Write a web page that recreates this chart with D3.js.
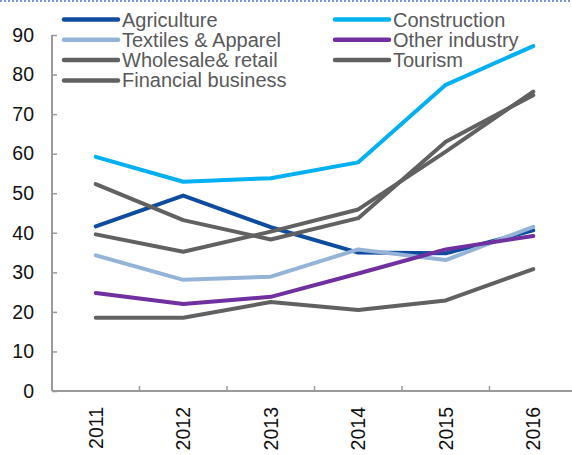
<!doctype html>
<html lang="en">
<head>
<meta charset="utf-8" />
<title>Sector lines</title>
<script src="https://d3js.org/d3.v7.min.js"></script>
<style>
  body { margin: 0; background: #fff; }
  svg { display: block; font-family: "Liberation Sans", Arial, sans-serif; }
</style>
</head>
<body>
<svg></svg>
<script>
// data
const years = ["2011", "2012", "2013", "2014", "2015", "2016"];
const agriculture  = [41.6, 49.4, 41.4, 35.0, 34.8, 40.6];
const construction = [59.2, 52.9, 53.8, 57.8, 77.4, 87.2];
const textiles     = [34.3, 28.1, 28.9, 35.8, 33.1, 41.5];
const otherIndustry= [24.8, 22.0, 23.8, 29.7, 35.8, 39.2];
const wholesale    = [39.6, 35.2, 40.3, 45.9, 60.5, 75.7];
const tourism      = [18.5, 18.5, 22.5, 20.5, 22.9, 30.8];
const financial    = [52.3, 43.2, 38.3, 43.7, 63.0, 74.8];
const yTicks = [0, 10, 20, 30, 40, 50, 60, 70, 80, 90];

const series = [
  { name: "Agriculture", values: agriculture, color: "#0f4c9f" },
  { name: "Construction", values: construction, color: "#00b0f0" },
  { name: "Textiles & Apparel", values: textiles, color: "#95b3d7" },
  { name: "Other industry", values: otherIndustry, color: "#7030a0" },
  { name: "Wholesale& retail", values: wholesale, color: "#616161" },
  { name: "Tourism", values: tourism, color: "#616161" },
  { name: "Financial business", values: financial, color: "#616161" }
];

let width = 572,
    height = 455;

const svg = d3.select("svg")
    .attr("width", width)
    .attr("height", height);

// dotted border at top
svg.append("line")
    .attr("x1", 0).attr("x2", width)
    .attr("y1", 1).attr("y2", 1)
    .attr("stroke", "#4a74c4")
    .attr("stroke-width", 2)
    .attr("stroke-dasharray", "2,2")
    .attr("opacity", 0.75);

let x = d3.scaleBand()
    .domain(years)
    .range([52, 577]);

let y = d3.scaleLinear()
    .domain([0, 90])
    .range([391, 35]);

const axisColor = "#9a9a9a";

// y axis
const yAxis = svg.append("g")
    .attr("transform", "translate(52,0)")
    .call(d3.axisRight(y).tickValues(yTicks).tickSize(5).tickFormat(""));
yAxis.select(".domain").remove();
yAxis.selectAll(".tick line").attr("stroke", axisColor).attr("stroke-width", 1.5);
svg.append("line")
    .attr("x1", 52).attr("x2", 52)
    .attr("y1", y(90)).attr("y2", y(0))
    .attr("stroke", axisColor).attr("stroke-width", 2);

svg.append("g").selectAll("text")
    .data(yTicks)
    .enter()
    .append("text")
        .attr("x", 34)
        .attr("y", d => y(d))
        .attr("dy", "0.35em")
        .attr("text-anchor", "end")
        .attr("font-size", 19.5)
        .attr("fill", "#111")
        .text(d => d);

// x axis, ticks between categories pointing up
svg.append("line")
    .attr("x1", 52).attr("x2", width)
    .attr("y1", y(0)).attr("y2", y(0))
    .attr("stroke", axisColor).attr("stroke-width", 2);

svg.append("g").selectAll("line")
    .data(years.slice(1))
    .enter()
    .append("line")
        .attr("x1", d => x(d)).attr("x2", d => x(d))
        .attr("y1", y(0)).attr("y2", y(0) - 5)
        .attr("stroke", axisColor).attr("stroke-width", 1.5);

svg.append("g").selectAll("text")
    .data(years)
    .enter()
    .append("text")
        .attr("transform", d => "translate(" + (x(d) + x.bandwidth() / 2) + ",407) rotate(-90)")
        .attr("dy", "0.35em")
        .attr("text-anchor", "end")
        .attr("font-size", 19.5)
        .attr("fill", "#111")
        .text(d => d);

// lines
let line = d3.line()
    .x((d, i) => x(years[i]) + x.bandwidth() / 2)
    .y(d => y(d));

svg.append("g").selectAll("path")
    .data(series)
    .enter()
    .append("path")
        .attr("d", d => line(d.values))
        .attr("fill", "none")
        .attr("stroke", d => d.color)
        .attr("stroke-width", 4)
        .attr("stroke-linecap", "round")
        .attr("stroke-linejoin", "round");

// legend, two columns filled row by row
const legend = svg.append("g").selectAll("g")
    .data(series)
    .enter()
    .append("g")
        .attr("transform", (d, i) => "translate(" + (i % 2 ? 335 : 64) + "," + (19.5 + Math.floor(i / 2) * 20.3) + ")");

legend.append("line")
    .attr("x1", 0).attr("x2", 54)
    .attr("stroke", d => d.color)
    .attr("stroke-width", 4.5)
    .attr("stroke-linecap", "round");

legend.append("text")
    .attr("x", 58)
    .attr("dy", "0.35em")
    .attr("font-size", 20)
    .attr("fill", "#595959")
    .text(d => d.name);
</script>
</body>
</html>
